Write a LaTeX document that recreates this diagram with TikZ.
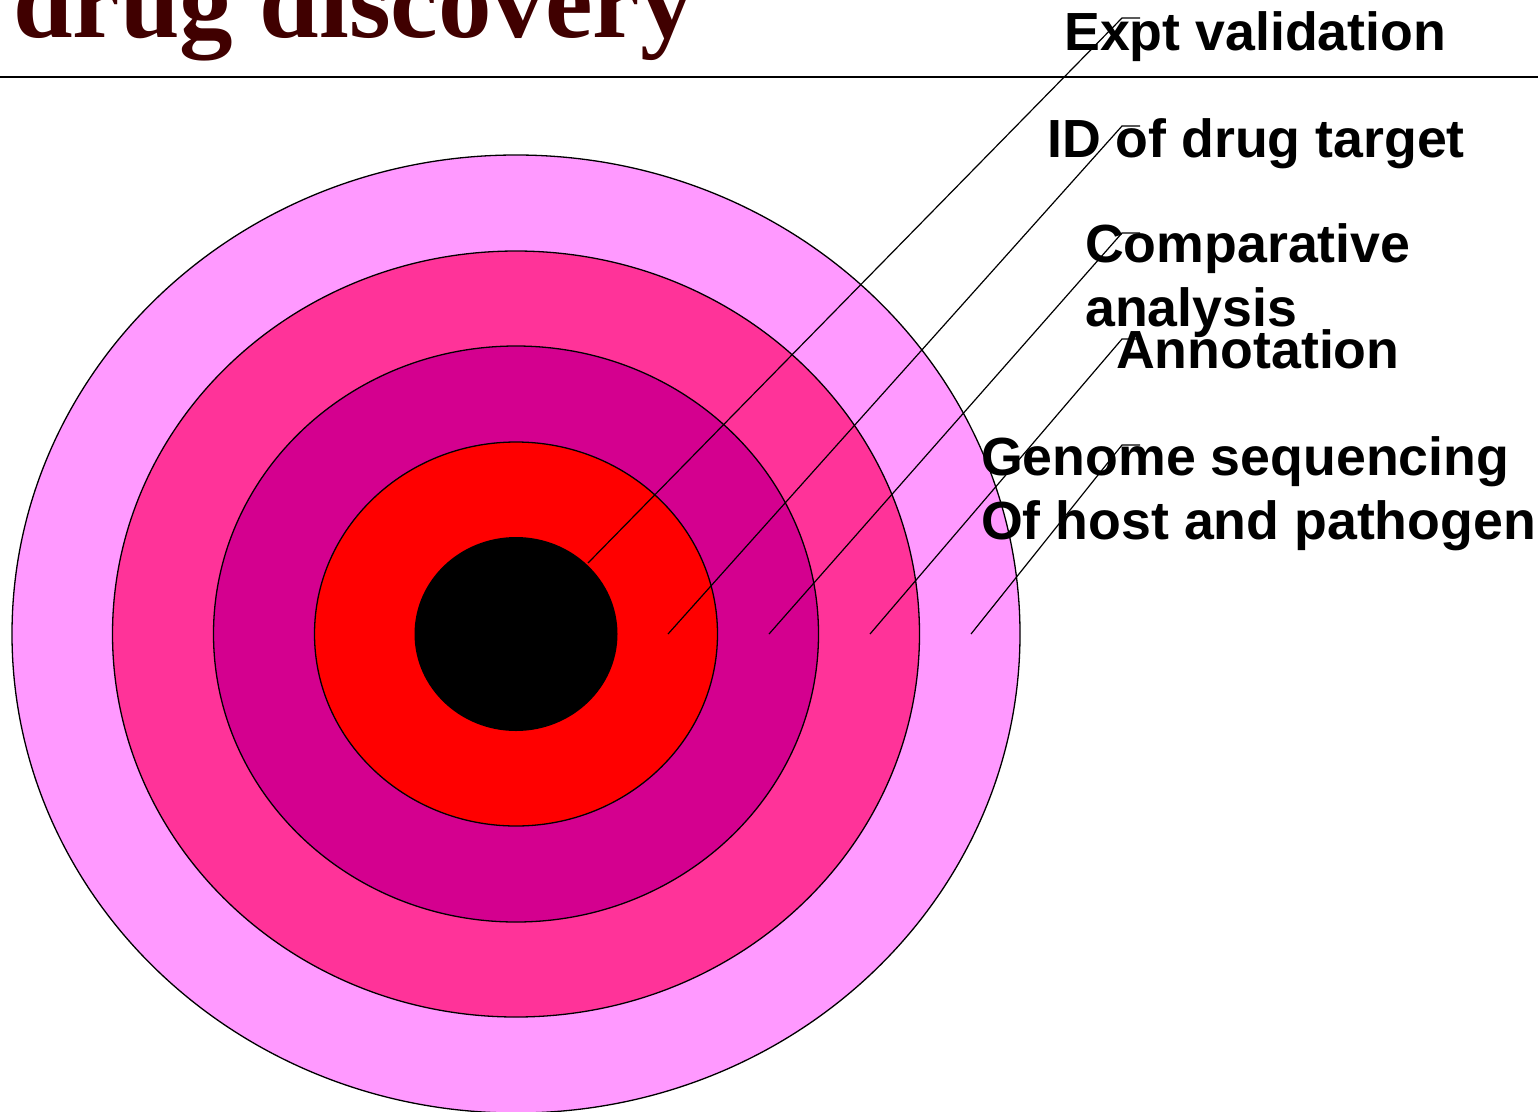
\documentclass[tikz,border=0pt]{standalone}
\usepackage{fontspec}
\setmainfont{Liberation Sans}
\newfontfamily\titlefont{Liberation Serif}
\definecolor{ringA}{HTML}{FF99FF}
\definecolor{ringB}{HTML}{FF3399}
\definecolor{ringC}{HTML}{D4008F}
\definecolor{ringD}{HTML}{FF0000}
\definecolor{titlecol}{HTML}{400000}
\tikzset{
  ring/.style={draw=black, line width=1.3pt},
  callout/.style={draw=black, line width=1.2pt},
  lbl/.style={anchor=base west, inner sep=0pt, font=\fontsize{53.7}{64}\selectfont\bfseries},
}
\begin{document}
\begin{tikzpicture}[x=1pt, y=-1pt]
\useasboundingbox (0,0) rectangle (1538,1111);
\clip (0,0) rectangle (1538,1111);
% title
\node[anchor=base west, inner sep=0pt, text=titlecol, font=\fontsize{107}{110}\selectfont\titlefont\bfseries] (title) at (13,37) {drug discovery};
\draw[line width=2pt] (0,77) coordinate (ruleL) -- (1538,77) coordinate (ruleR);
% target
\coordinate (c) at (516,634);
\fill[ring, fill=ringA] (c) ellipse [x radius=504, y radius=479];
\fill[ring, fill=ringB] (c) ellipse [x radius=403.5, y radius=383];
\fill[ring, fill=ringC] (c) ellipse [x radius=302.5, y radius=288];
\fill[ring, fill=ringD] (c) ellipse [x radius=201.5, y radius=192];
\fill[black] (c) ellipse [x radius=101.5, y radius=97];
% tips and elbows
\coordinate (t1) at (588,563);
\coordinate (t2) at (668,634);
\coordinate (t3) at (769,634);
\coordinate (t4) at (870,634);
\coordinate (t5) at (971,634);
\coordinate (e1) at (1122,18);   \coordinate (s1) at (1140,18);
\coordinate (e2) at (1122,126);  \coordinate (s2) at (1140,126);
\coordinate (e3) at (1122,233);  \coordinate (s3) at (1140,233);
\coordinate (e4) at (1122,339);  \coordinate (s4) at (1140,339);
\coordinate (e5) at (1122,445);  \coordinate (s5) at (1140,445);
\draw[callout] (t1) -- (e1) -- (s1);
\draw[callout] (t2) -- (e2) -- (s2);
\draw[callout] (t3) -- (e3) -- (s3);
\draw[callout] (t4) -- (e4) -- (s4);
\draw[callout] (t5) -- (e5) -- (s5);
% labels
\node[lbl] (l1) at (1064,50) {Expt validation};
\node[lbl] (l2) at (1047,157) {ID of drug target};
\node[lbl] (l3) at (1085,262) {\begin{tabular}[t]{@{}l@{}}Comparative\\analysis\end{tabular}};
\node[lbl] (l4) at (1116,368) {Annotation};
\node[lbl] (l5) at (981,475) {\begin{tabular}[t]{@{}l@{}}Genome sequencing\\Of host and pathogen\end{tabular}};
\end{tikzpicture}
\end{document}
